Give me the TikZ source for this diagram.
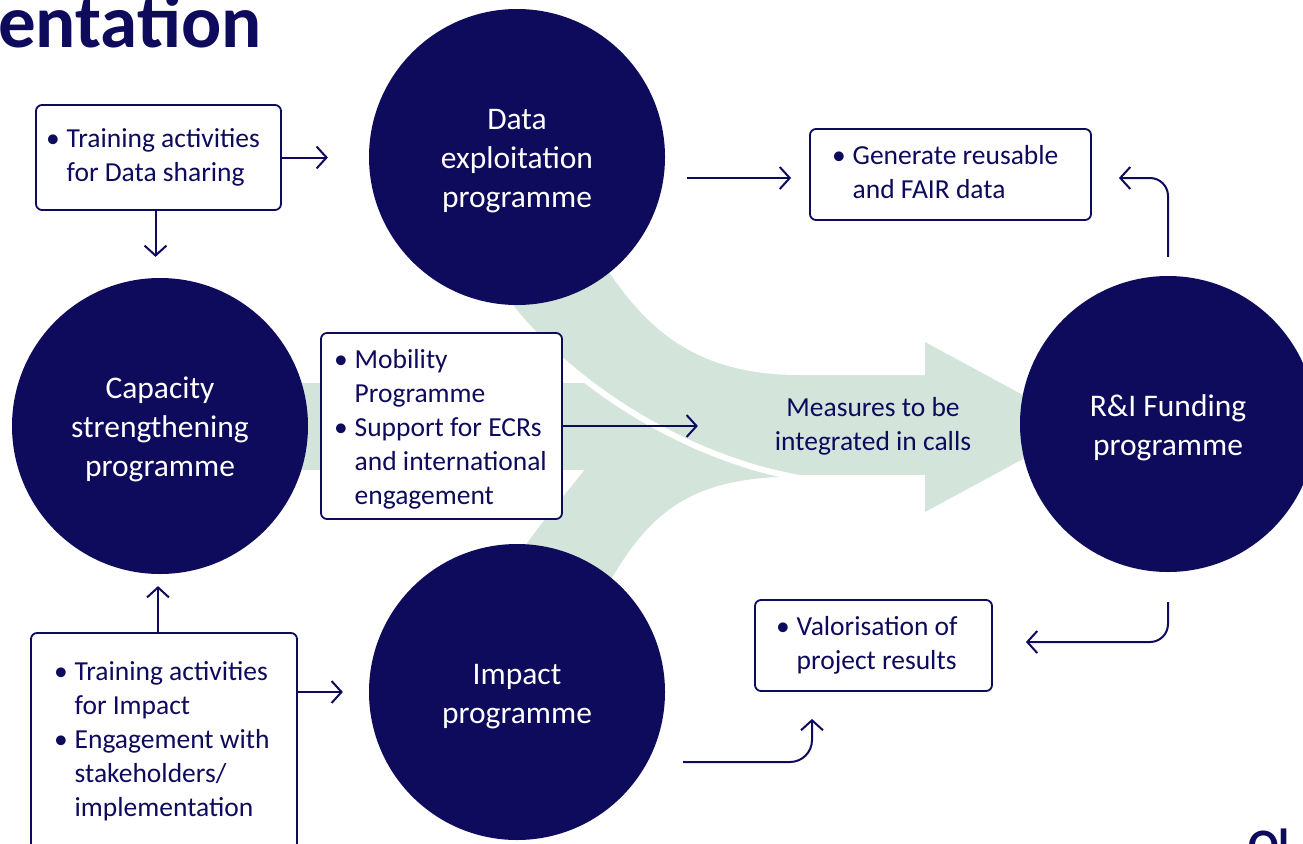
\documentclass[tikz,border=0pt]{standalone}
\usepackage{fontspec}
\setmainfont{Carlito}
\usetikzlibrary{arrows.meta,calc,positioning}
\definecolor{navy}{RGB}{14,10,92}
\definecolor{sage}{RGB}{211,228,218}
\newcommand{\lift}{\rule{0pt}{29pt}}
\tikzstyle{programme} = [circle, minimum size=296pt, inner sep=0pt, fill=navy, text=white, align=center, font=\fontsize{31.5}{39}\selectfont]
\tikzstyle{infobox} = [rectangle, rounded corners=6pt, draw=navy, line width=1.8pt, fill=white, text=navy, inner sep=0pt, font=\fontsize{27.5}{34}\selectfont]
\tikzstyle{flow} = [draw=navy, line width=2pt, -{Straight Barb[length=10pt,width=22pt]}]

\begin{document}
\begin{tikzpicture}[x=1pt, y=-1pt]
  \useasboundingbox (0,0) rectangle (1303,843);

  % green bands
  \fill[sage] (300,383) rectangle (930,470);
  \fill[sage] (592,440) -- (592,460) .. controls (570,490) and (545,515) .. (505,575) -- (598,604)
    .. controls (650,500) and (700,478) .. (800,476) -- (800,440) -- cycle;
  \filldraw[fill=sage, draw=white, line width=6pt] (500,292) -- (606,262) .. controls (650,330) and (700,372) .. (800,372)
    -- (930,372) -- (930,478) -- (800,478) .. controls (700,461) and (585,398) .. (513,310) -- cycle;
  \fill[sage] (925,342) -- (1082,427) -- (925,512) -- cycle;

  \node (title) [anchor=base west, inner sep=0pt, text=navy, font=\fontsize{75}{80}\selectfont\bfseries] at (-2,48) {entation};
  \node (corner) [anchor=base west, inner sep=0pt, text=navy, font=\fontsize{45}{50}\selectfont\bfseries] at (1248,860) {Ol};

  % programmes
  \node (data) [programme] at (517,157) {\lift Data\\exploitation\\programme};
  \node (capacity) [programme] at (160,426) {\lift Capacity\\strengthening\\programme};
  \node (impact) [programme] at (517,692) {\lift Impact\\programme};
  \node (rif) [programme] at (1168,424) {\lift R\&I Funding\\programme};

  \node (measures) [text=navy, align=center, font=\fontsize{27.5}{34}\selectfont] at (873,426) {Measures to be\\integrated in calls};

  % boxes
  \node (datatrain) [infobox, minimum width=245pt, minimum height=105pt] at (158.5,157.5) {\makebox[225pt][l]{%
\begin{tabular}{@{}l@{\hspace{7pt}}l@{}}
  \textbullet & Training activities\\
  & for Data sharing
\end{tabular}}};
  \node (fair) [infobox, minimum width=281pt, minimum height=91pt] at (950.5,174.5) {\makebox[237pt][l]{%
\begin{tabular}{@{}l@{\hspace{7pt}}l@{}}
  \textbullet & Generate reusable\\
  & and FAIR data
\end{tabular}}};
  \node (mobility) [infobox, minimum width=241pt, minimum height=186pt] at (441.5,426) {\makebox[215pt][l]{%
\begin{tabular}{@{}l@{\hspace{7pt}}l@{}}
  \textbullet\rule{0pt}{30.8pt} & Mobility\\
  & Programme\\
  \textbullet & Support for ECRs\\
  & and international\\
  & engagement
\end{tabular}}};
  \node (valor) [infobox, minimum width=237pt, minimum height=91pt] at (873.5,645.5) {\makebox[195pt][l]{%
\begin{tabular}{@{}l@{\hspace{7pt}}l@{}}
  \textbullet & Valorisation of\\
  & project results
\end{tabular}}};
  \node (imptrain) [infobox, minimum width=266pt, minimum height=217pt] at (164,741.5) {\makebox[220pt][l]{%
\begin{tabular}{@{}l@{\hspace{7pt}}l@{}}
  \textbullet & Training activities\\
  & for Impact\\
  \textbullet & Engagement with\\
  & stakeholders/\\
  & implementation
\end{tabular}}};

  % arrows
  \draw[flow] (datatrain.east) -- ++(46,0);
  \draw[flow] ([xshift=-3pt]datatrain.south) -- ++(0,46);
  \draw[flow] ($(data.east)+(22,21)$) -- ($(fair.west)+(-18,3.5)$);
  \draw[flow, rounded corners=18pt] ($(rif.north)+(0,-19)$) |- ($(fair.east)+(27,3.5)$);
  \draw[flow, rounded corners=18pt] ($(rif.south)+(0,30)$) |- ($(valor.east)+(33,-3.5)$);
  \draw[flow, rounded corners=22pt] ($(impact.east)+(18,70)$) -| ($(valor.south)+(-61.5,27)$);
  \draw[flow] (mobility.east) -- ++(135,0);
  \draw[flow] ([xshift=-6pt]imptrain.north) -- ++(0,-46);
  \draw[flow] (imptrain.east |- impact.center) -- ++(45,0);
\end{tikzpicture}
\end{document}
